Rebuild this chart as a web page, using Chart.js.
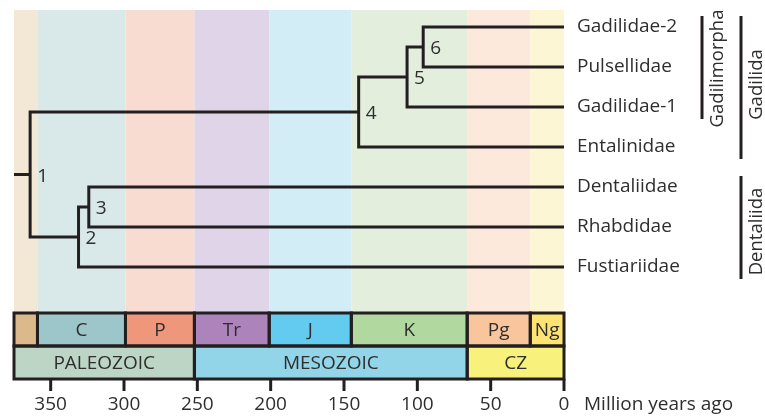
<!DOCTYPE html>
<html>
<head>
<meta charset="utf-8">
<script src="https://cdn.jsdelivr.net/npm/chart.js@4"></script>
<style>
  body { margin: 0; background: #fff; }
  #wrap { width: 765px; height: 420px; }
</style>
</head>
<body>
<div id="wrap"><canvas id="treeChart"></canvas></div>
<script>
// leaves, top to bottom
const leafNames = ['Gadilidae-2', 'Pulsellidae', 'Gadilidae-1', 'Entalinidae', 'Dentaliidae', 'Rhabdidae', 'Fustiariidae'];

// internal nodes: age in Ma and the two children of each
const nodeNames = ['1', '2', '3', '4', '5', '6'];
const nodeAges = [364, 331, 324, 140, 107, 96];
const nodeChildren = [
    ['4', '2'],
    ['3', 'Fustiariidae'],
    ['Dentaliidae', 'Rhabdidae'],
    ['5', 'Entalinidae'],
    ['6', 'Gadilidae-1'],
    ['Gadilidae-2', 'Pulsellidae']
];
const rootAge = 375;

// clade brackets on the right
const cladeNames = ['Gadilimorpha', 'Gadilida', 'Dentaliida'];
const cladeFirst = ['Gadilidae-2', 'Gadilidae-2', 'Dentaliidae'];
const cladeLast = ['Gadilidae-1', 'Entalinidae', 'Fustiariidae'];

// geologic time scale (Ma)
const periodNames = ['', 'C', 'P', 'Tr', 'J', 'K', 'Pg', 'Ng'];
const periodStart = [375, 359, 299, 252, 201, 145, 66, 23];
const periodEnd = [359, 299, 252, 201, 145, 66, 23, 0];
const eraNames = ['PALEOZOIC', 'MESOZOIC', 'CZ'];
const eraStart = [375, 252, 66];
const eraEnd = [252, 66, 0];
const tickValues = [350, 300, 250, 200, 150, 100, 50, 0];

const bandColors = ['#f3e7d5', '#d9e8e8', '#f9dcd1', '#e0d4e8', '#d3edf7', '#e3efdc', '#fde9db', '#fdf6d4'];
const periodColors = ['#dcb98a', '#9cc6c9', '#ee977b', '#ad83bc', '#63cbef', '#b1d89f', '#f9c59d', '#fde274'];
const eraColors = ['#bdd5c5', '#93d5e8', '#f8f17b'];

const ink = '#231f20';
const textInk = '#2e2e2e';
const fontFamily = '"Open Sans", "Noto Sans", sans-serif';

// row of each leaf / node (nodes sit halfway between their children)
const rowOf = {};
leafNames.forEach((n, i) => rowOf[n] = i);
const ageOf = {};
leafNames.forEach(n => ageOf[n] = 0);
nodeNames.forEach((n, i) => ageOf[n] = nodeAges[i]);

function row(name) {
    if (rowOf[name] === undefined) {
        const i = nodeNames.indexOf(name);
        rowOf[name] = (row(nodeChildren[i][0]) + row(nodeChildren[i][1])) / 2;
    }
    return rowOf[name];
}

const lineStyle = {
    borderColor: ink,
    borderWidth: 3,
    pointRadius: 0,
    tension: 0,
    borderJoinStyle: 'miter',
    borderCapStyle: 'butt',
    clip: false
};

const treeSets = nodeNames.map((n, i) => {
    const [a, b] = nodeChildren[i];
    return {
        ...lineStyle,
        data: [
            {x: ageOf[a], y: row(a)},
            {x: nodeAges[i], y: row(a)},
            {x: nodeAges[i], y: row(b)},
            {x: ageOf[b], y: row(b)}
        ]
    };
});
treeSets.push({
    ...lineStyle,
    data: [{x: rootAge, y: row('1')}, {x: nodeAges[0], y: row('1')}]
});

const timeScalePlugin = {
    id: 'timeScale',
    beforeDatasetsDraw(chart) {
        const ctx = chart.ctx;
        const xs = chart.scales.x;
        const area = chart.chartArea;
        const rowH = 33;
        const periodTop = area.bottom - 2 * rowH;
        const eraTop = area.bottom - rowH;

        ctx.save();
        // background bands
        periodStart.forEach((s, i) => {
            const x0 = xs.getPixelForValue(s);
            const x1 = xs.getPixelForValue(periodEnd[i]);
            ctx.fillStyle = bandColors[i];
            ctx.fillRect(x0, area.top, x1 - x0, periodTop - area.top);
        });

        ctx.font = '19px ' + fontFamily;
        ctx.textAlign = 'center';
        ctx.textBaseline = 'middle';

        // period boxes
        periodStart.forEach((s, i) => {
            const x0 = xs.getPixelForValue(s);
            const x1 = xs.getPixelForValue(periodEnd[i]);
            ctx.fillStyle = periodColors[i];
            ctx.fillRect(x0, periodTop, x1 - x0, rowH);
        });
        // era boxes
        eraStart.forEach((s, i) => {
            const x0 = xs.getPixelForValue(s);
            const x1 = xs.getPixelForValue(eraEnd[i]);
            ctx.fillStyle = eraColors[i];
            ctx.fillRect(x0, eraTop, x1 - x0, rowH);
        });

        ctx.strokeStyle = ink;
        ctx.lineWidth = 3;
        periodStart.forEach((s, i) => {
            const x0 = xs.getPixelForValue(s);
            const x1 = xs.getPixelForValue(periodEnd[i]);
            ctx.strokeRect(x0, periodTop, x1 - x0, rowH);
            ctx.fillStyle = textInk;
            if (periodNames[i]) ctx.fillText(periodNames[i], (x0 + x1) / 2, periodTop + rowH / 2 + 1);
        });
        eraStart.forEach((s, i) => {
            const x0 = xs.getPixelForValue(s);
            const x1 = xs.getPixelForValue(eraEnd[i]);
            ctx.strokeRect(x0, eraTop, x1 - x0, rowH);
            ctx.fillStyle = textInk;
            ctx.fillText(eraNames[i], (x0 + x1) / 2, eraTop + rowH / 2 + 1);
        });

        // axis ticks
        tickValues.forEach(v => {
            const px = xs.getPixelForValue(v);
            ctx.beginPath();
            ctx.moveTo(px, area.bottom);
            ctx.lineTo(px, area.bottom + 12);
            ctx.stroke();
            ctx.fillStyle = textInk;
            ctx.fillText(String(v), px, area.bottom + 26);
        });
        ctx.textAlign = 'left';
        ctx.fillText('Million years ago', xs.getPixelForValue(0) + 20, area.bottom + 26);
        ctx.restore();
    },
    afterDatasetsDraw(chart) {
        const ctx = chart.ctx;
        const xs = chart.scales.x;
        const ys = chart.scales.y;
        const area = chart.chartArea;

        ctx.save();
        ctx.fillStyle = textInk;
        ctx.font = '19px ' + fontFamily;
        ctx.textBaseline = 'middle';
        ctx.textAlign = 'left';

        leafNames.forEach(n => {
            ctx.fillText(n, area.right + 13, ys.getPixelForValue(row(n)));
        });

        nodeNames.forEach((n, i) => {
            ctx.fillText(n, xs.getPixelForValue(nodeAges[i]) + 7, ys.getPixelForValue(row(n)) + 2);
        });

        // clade brackets
        const barX = [702, 741, 741];
        const textShift = [1, -3, 4];
        ctx.strokeStyle = ink;
        ctx.lineWidth = 3;
        ctx.font = '18.5px ' + fontFamily;
        cladeNames.forEach((c, i) => {
            const y0 = ys.getPixelForValue(row(cladeFirst[i])) - 11;
            const y1 = ys.getPixelForValue(row(cladeLast[i])) + 12;
            ctx.beginPath();
            ctx.moveTo(barX[i], y0);
            ctx.lineTo(barX[i], y1);
            ctx.stroke();
            ctx.save();
            ctx.translate(barX[i] + 21, (y0 + y1) / 2 + textShift[i]);
            ctx.rotate(-Math.PI / 2);
            ctx.textAlign = 'center';
            ctx.textBaseline = 'alphabetic';
            ctx.fillText(c, 0, 0);
            ctx.restore();
        });
        ctx.restore();
    }
};

new Chart('treeChart', {
    type: 'line',
    data: { datasets: treeSets },
    options: {
        responsive: true,
        maintainAspectRatio: false,
        devicePixelRatio: 1,
        animation: false,
        layout: { padding: { left: 14, right: 201, top: 10, bottom: 41 } },
        plugins: {
            legend: { display: false },
            tooltip: { enabled: false }
        },
        scales: {
            x: { type: 'linear', reverse: true, min: 0, max: 375, display: false },
            y: { type: 'linear', reverse: true, min: -0.425, max: 8.8, display: false }
        }
    },
    plugins: [timeScalePlugin]
});
</script>
</body>
</html>
